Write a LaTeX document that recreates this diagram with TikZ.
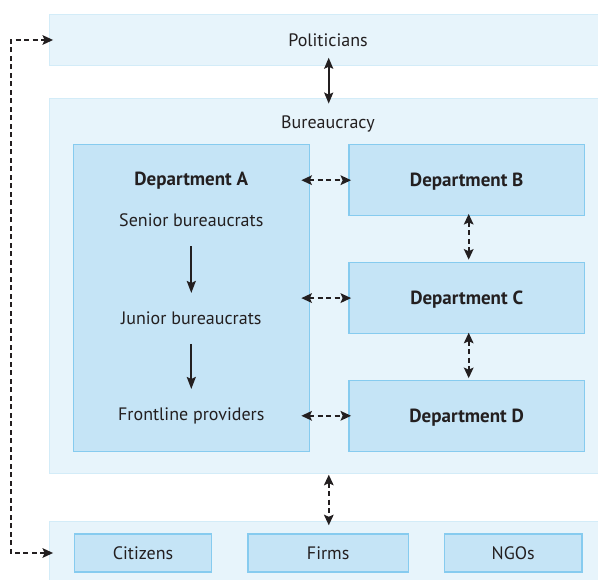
\documentclass[tikz,border=0pt]{standalone}
\usepackage{fontspec}
\setmainfont{PT Sans}
\usetikzlibrary{arrows.meta}
\definecolor{band}{HTML}{E7F4FB}
\definecolor{bandline}{HTML}{D3ECF8}
\definecolor{deptfill}{HTML}{C5E4F6}
\definecolor{deptline}{HTML}{86CBEF}
\definecolor{ink}{HTML}{231F20}
\tikzset{
  bandbox/.style={draw=bandline, fill=band, line width=0.8pt, inner sep=0pt},
  deptbox/.style={draw=deptline, fill=deptfill, line width=1.2pt, inner sep=0pt, text height=16pt, text depth=3pt, font=\fontsize{19}{22}\selectfont\bfseries, text=ink},
  smallbox/.style={draw=deptline, fill=deptfill, line width=1.2pt, inner sep=0pt, text height=16pt, text depth=3pt, font=\fontsize{18}{21}\selectfont, text=ink},
  lbl/.style={inner sep=0pt, text height=16pt, text depth=3pt, font=\fontsize{18}{21}\selectfont, text=ink},
  boldlbl/.style={lbl, font=\fontsize{19}{22}\selectfont\bfseries},
  solidarrow/.style={draw=ink, line width=2pt, -{Stealth[length=12pt,width=9pt,inset=2pt]}},
  soliddouble/.style={draw=ink, line width=2pt, {Stealth[length=11pt,width=9pt,inset=2pt]}-{Stealth[length=11pt,width=9pt,inset=2pt]}},
  dasharrow/.style={draw=ink, line width=2.3pt, dash pattern=on 5pt off 3.5pt, {Stealth[length=10.5pt,width=9.5pt,inset=2pt]}-{Stealth[length=10.5pt,width=9.5pt,inset=2pt]}}
}
\begin{document}
\begin{tikzpicture}[x=1pt,y=-1pt]
\useasboundingbox (0,0) rectangle (598,580);
% bands
\node[bandbox, minimum width=552pt, minimum height=51.4pt] (pol) at (325,40) {};
\node[lbl] (poltext) at (328,40) {Politicians};
\node[bandbox, minimum width=552pt, minimum height=375pt] (bur) at (325,285.8) {};
\node[lbl] (burtext) at (328,122) {Bureaucracy};
\node[bandbox, minimum width=552pt, minimum height=62pt] (soc) at (325,552) {};
% departments
\node[deptbox, minimum width=236pt, minimum height=306.6pt] (A) at (191.3,298) {};
\node[boldlbl] (Atitle) at (191.3,179) {Department A};
\node[lbl] (senior) at (191.3,220.5) {Senior bureaucrats};
\node[lbl] (junior) at (191.3,318) {Junior bureaucrats};
\node[lbl] (front) at (191.3,414) {Frontline providers};
\node[deptbox, minimum width=235.3pt, minimum height=71pt] (B) at (466.7,180.2) {Department B};
\node[deptbox, minimum width=235.3pt, minimum height=71pt] (C) at (466.7,298.1) {Department C};
\node[deptbox, minimum width=235.3pt, minimum height=71pt] (D) at (466.7,415.8) {Department D};
% society
\node[smallbox, minimum width=137.3pt, minimum height=38pt] (cit) at (143,553) {Citizens};
\node[smallbox, minimum width=160.6pt, minimum height=38pt] (firms) at (328.2,553) {Firms};
\node[smallbox, minimum width=137.7pt, minimum height=38pt] (ngo) at (513.2,553) {NGOs};
% connectors
\draw[soliddouble] ([xshift=3.7pt,yshift=8.4pt]pol.south) -- ([xshift=3.7pt,yshift=-5.7pt]bur.north);
\draw[solidarrow, shorten <=26pt, shorten >=25pt] (senior.center) -- (junior.center);
\draw[solidarrow, shorten <=26pt, shorten >=25pt] (junior.center) -- (front.center);
\draw[dasharrow] ([xshift=-8.6pt]A.east |- B.west) -- ([xshift=2.7pt]B.west);
\draw[dasharrow] ([xshift=-8.6pt]A.east |- C.west) -- ([xshift=2.7pt]C.west);
\draw[dasharrow] ([xshift=-8.6pt]A.east |- D.west) -- ([xshift=2.7pt]D.west);
\draw[dasharrow] ([xshift=2pt,yshift=2.4pt]B.south) -- ([xshift=2pt,yshift=2.3pt]C.north);
\draw[dasharrow] ([xshift=2pt,yshift=1.5pt]C.south) -- ([xshift=2pt,yshift=1.5pt]D.north);
\draw[dasharrow] ([xshift=3.8pt,yshift=-1pt]bur.south) -- ([xshift=3.8pt,yshift=-4.7pt]soc.north);
\coordinate (polend) at ([xshift=4.5pt]pol.west);
\coordinate (socend) at ([xshift=4.5pt]pol.west |- cit.west);
\coordinate (corner1) at (10.7,40);
\coordinate (corner2) at (10.7,553);
\draw[dasharrow] (socend) -- (corner2) -- (corner1) -- (polend);
\end{tikzpicture}
\end{document}
